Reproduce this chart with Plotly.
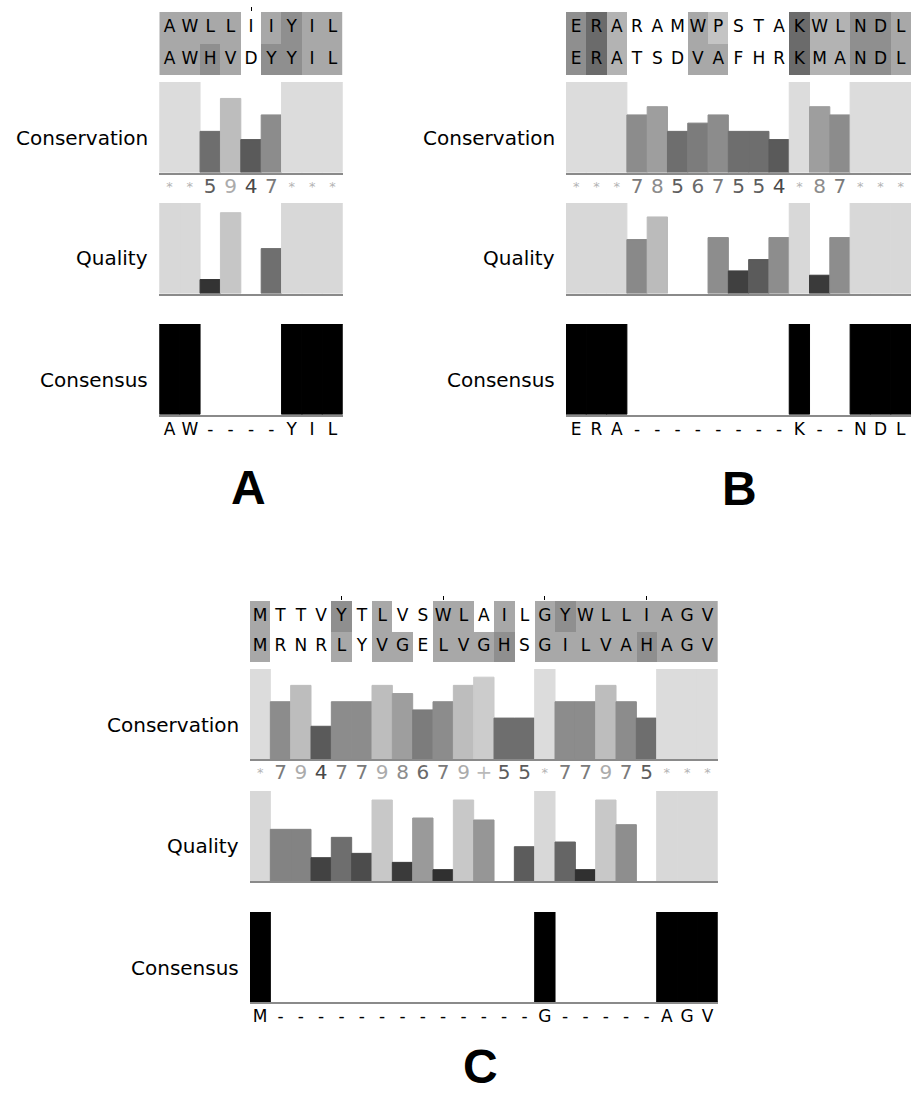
import plotly.graph_objects as go
import numpy as np

W, H = 913, 1095

# ---------------- data ----------------
# Panel A
a_seq1 = list("AWLLIIYIL")
a_seq2 = list("AWHVDYYIL")
a_shade1 = [3, 3, 3, 3, 0, 3, 4, 3, 3]
a_shade2 = [3, 3, 4, 3, 0, 4, 4, 3, 3]
a_cons = [11, 11, 5, 9, 4, 7, 11, 11, 11]
a_qual = [1, 1, 0.154, 0.893, 0, 0.496, 1, 1, 1]
a_consensus = [100, 100, 0, 0, 0, 0, 100, 100, 100]
a_consensus_lbl = list("AW----YIL")
a_ruler = [5]

# Panel B
b_seq1 = list("ERARAMWPSTAKWLNDL")
b_seq2 = list("ERATSDVAFHRKMANDL")
b_shade1 = [4, 5, 2, 0, 0, 0, 3, 1, 0, 0, 0, 5, 2, 2, 4, 4, 3]
b_shade2 = [4, 5, 2, 0, 0, 0, 3, 3, 0, 0, 0, 5, 2, 2, 4, 4, 3]
b_cons = [11, 11, 11, 7, 8, 5, 6, 7, 5, 5, 4, 11, 8, 7, 11, 11, 11]
b_qual = [1, 1, 1, 0.596, 0.846, 0, 0, 0.618, 0.25, 0.375, 0.618, 1, 0.202, 0.618, 1, 1, 1]
b_consensus = [100, 100, 100, 0, 0, 0, 0, 0, 0, 0, 0, 100, 0, 0, 100, 100, 100]
b_consensus_lbl = list("ERA--------K--NDL")
b_ruler = []

# Panel C
c_seq1 = list("MTTVYTLVSWLAILGYWLLIAGV")
c_seq2 = list("MRNRLYVGELVGHSGILVAHAGV")
c_shade1 = [3, 0, 0, 0, 4, 0, 3, 0, 0, 3, 3, 0, 3, 0, 3, 4, 3, 3, 3, 3, 3, 3, 3]
c_shade2 = [3, 0, 0, 0, 3, 0, 3, 3, 0, 3, 3, 3, 4, 0, 3, 3, 3, 3, 3, 4, 3, 3, 3]
c_cons = [11, 7, 9, 4, 7, 7, 9, 8, 6, 7, 9, 10, 5, 5, 11, 7, 7, 9, 7, 5, 11, 11, 11]
c_qual = [1, 0.574, 0.574, 0.259, 0.485, 0.307, 0.9, 0.207, 0.70, 0.126, 0.9, 0.678, 0,
          0.381, 1, 0.433, 0.126, 0.9, 0.626, 0, 1, 1, 1]
c_consensus = [100] + [0] * 13 + [100] + [0] * 5 + [100, 100, 100]
c_consensus_lbl = list("M-------------G-----AGV")
c_ruler = [5, 10, 15, 20]

row_labels = ["Conservation", "Quality", "Consensus"]
panel_names = ["A", "B", "C"]

# ---------------- styles ----------------
shade_colors = ["#ffffff", "#c4c4c4", "#b3b3b3", "#a8a8a8", "#8f8f8f", "#6b6b6b"]
cons_gray = {4: 90, 5: 110, 6: 124, 7: 140, 8: 158, 9: 189, 10: 204, 11: 220}
q_pts_v = [0, 0.13, 0.25, 0.38, 0.5, 0.6, 0.7, 0.85, 0.9, 0.99, 1.0]
q_pts_g = [40, 48, 64, 92, 112, 138, 154, 188, 200, 205, 216]


def gray(g):
    g = int(round(g))
    return f"rgb({g},{g},{g})"


FONT = "DejaVu Sans"
fig = go.Figure()
layout = {}
counter = [0]


def new_axes(xd, yd, xr, yr, xextra=None, yextra=None):
    counter[0] += 1
    i = counter[0]
    xn = "x" if i == 1 else f"x{i}"
    yn = "y" if i == 1 else f"y{i}"
    xa = dict(domain=xd, range=xr, anchor=yn, showgrid=False, zeroline=False,
              showticklabels=False, ticks="", fixedrange=True, showline=False)
    ya = dict(domain=yd, range=yr, anchor=xn, showgrid=False, zeroline=False,
              showticklabels=False, ticks="", fixedrange=True, showline=False)
    if xextra:
        xa.update(xextra)
    if yextra:
        ya.update(yextra)
    layout["xaxis" if i == 1 else f"xaxis{i}"] = xa
    layout["yaxis" if i == 1 else f"yaxis{i}"] = ya
    return xn, yn


def fx(px):
    return px / W


def fy(py):
    return 1 - py / H


annotations = []


def nz(vals):
    # empty columns carry no bar
    return [v if v > 0 else None for v in vals]


def bar_marker(colors):
    return dict(color=colors, line=dict(width=1, color=colors))


def add_panel(x0, x1, rows, seqs, shades, cons, qual, consensus, cons_lbl, ruler,
              label_ys, name, name_pos):
    n = len(cons)
    cols = list(range(1, n + 1))
    xd = [fx(x0), fx(x1)]
    xr = [0.5, n + 0.5]
    # sequences
    sy0, sy1 = rows[0]
    xextra = dict(side="top")
    if ruler:
        xextra.update(ticks="outside", tickvals=ruler, ticklen=4, tickwidth=1,
                      tickcolor="#000000")
    xn, yn = new_axes(xd, [fy(sy1), fy(sy0)], xr, [1.5, -0.5], xextra=xextra)
    fig.add_trace(go.Heatmap(
        x=cols, y=[0, 1], z=[shades[0], shades[1]],
        zmin=0, zmax=len(shade_colors) - 1,
        colorscale=[[i / (len(shade_colors) - 1), c] for i, c in enumerate(shade_colors)],
        showscale=False, hoverinfo="skip", xaxis=xn, yaxis=yn, xgap=0, ygap=0))
    fig.add_trace(go.Scatter(x=cols + cols, y=[0] * n + [1] * n, mode="text",
                             text=seqs[0] + seqs[1],
                             textfont=dict(family=FONT, size=17, color="#000000"),
                             hoverinfo="skip", xaxis=xn, yaxis=yn))

    line = dict(showline=True, linecolor="#8a8a8a", linewidth=2)
    # conservation
    cy0, cy1 = rows[1]
    xn, yn = new_axes(xd, [fy(cy1), fy(cy0)], xr, [0, 11], xextra=line)
    ccols = [gray(cons_gray[v]) for v in cons]
    fig.add_trace(go.Bar(x=cols, y=nz(cons), width=1, marker=bar_marker(ccols),
                         hoverinfo="skip", xaxis=xn, yaxis=yn))
    # conservation numbers row
    xn, yn = new_axes(xd, [fy(cy1 + 26), fy(cy1 + 4)], xr, [-1, 1])
    lbls = ["*" if v == 11 else ("+" if v == 10 else str(v)) for v in cons]
    tcol = ["#b4b4b4" if v == 11 else gray(cons_gray[v] - 18) for v in cons]
    tsz = [13 if v == 11 else 20 for v in cons]
    fig.add_trace(go.Scatter(x=cols, y=[0] * n, mode="text", text=lbls,
                             textfont=dict(family=FONT, size=tsz, color=tcol),
                             hoverinfo="skip", xaxis=xn, yaxis=yn))
    # quality
    qy0, qy1 = rows[2]
    xn, yn = new_axes(xd, [fy(qy1), fy(qy0)], xr, [0, 1], xextra=line)
    qcols = [gray(np.interp(v, q_pts_v, q_pts_g)) for v in qual]
    fig.add_trace(go.Bar(x=cols, y=nz(qual), width=1, marker=bar_marker(qcols),
                         hoverinfo="skip", xaxis=xn, yaxis=yn))
    # consensus
    ky0, ky1 = rows[3]
    xn, yn = new_axes(xd, [fy(ky1), fy(ky0)], xr, [0, 100], xextra=line)
    fig.add_trace(go.Bar(x=cols, y=nz(consensus), width=1, marker=bar_marker("#000000"),
                         hoverinfo="skip", xaxis=xn, yaxis=yn))
    # consensus letters row
    xn, yn = new_axes(xd, [fy(ky1 + 27), fy(ky1 + 5)], xr, [-1, 1])
    fig.add_trace(go.Scatter(x=cols, y=[0] * n, mode="text", text=cons_lbl,
                             textfont=dict(family=FONT, size=17, color="#000000"),
                             hoverinfo="skip", xaxis=xn, yaxis=yn))
    # row labels
    for lab, ly in zip(row_labels, label_ys):
        annotations.append(dict(text=lab, x=fx(x0 - 9), y=fy(ly), xref="paper", yref="paper",
                                xanchor="right", yanchor="middle", showarrow=False,
                                font=dict(family=FONT, size=20, color="#000000")))
    annotations.append(dict(text=f"<b>{name}</b>", x=fx(name_pos[0]), y=fy(name_pos[1]),
                            xref="paper", yref="paper", xanchor="center", yanchor="middle",
                            showarrow=False,
                            font=dict(family="Liberation Sans", size=48, color="#000000")))


rows_ab = [(12, 75), (82, 172.5), (203, 293.5), (324, 414.5)]
rows_c = [(601, 662), (669, 759), (791, 881), (912, 1002)]

add_panel(159.3, 342.7, rows_ab, [a_seq1, a_seq2], [a_shade1, a_shade2], a_cons, a_qual,
          a_consensus, a_consensus_lbl, a_ruler, [138, 258, 380], panel_names[0], (249, 487))
add_panel(566, 911, rows_ab, [b_seq1, b_seq2], [b_shade1, b_shade2], b_cons, b_qual,
          b_consensus, b_consensus_lbl, b_ruler, [138, 258, 380], panel_names[1], (739, 488))
add_panel(250, 717.7, rows_c, [c_seq1, c_seq2], [c_shade1, c_shade2], c_cons, c_qual,
          c_consensus, c_consensus_lbl, c_ruler, [725, 846, 968], panel_names[2], (480, 1066))

fig.update_layout(width=W, height=H, margin=dict(l=0, r=0, t=0, b=0), autosize=False,
                  paper_bgcolor="#ffffff", plot_bgcolor="rgba(0,0,0,0)", showlegend=False,
                  annotations=annotations, **layout)

fig.write_html("out.html", config={"displayModeBar": False})
